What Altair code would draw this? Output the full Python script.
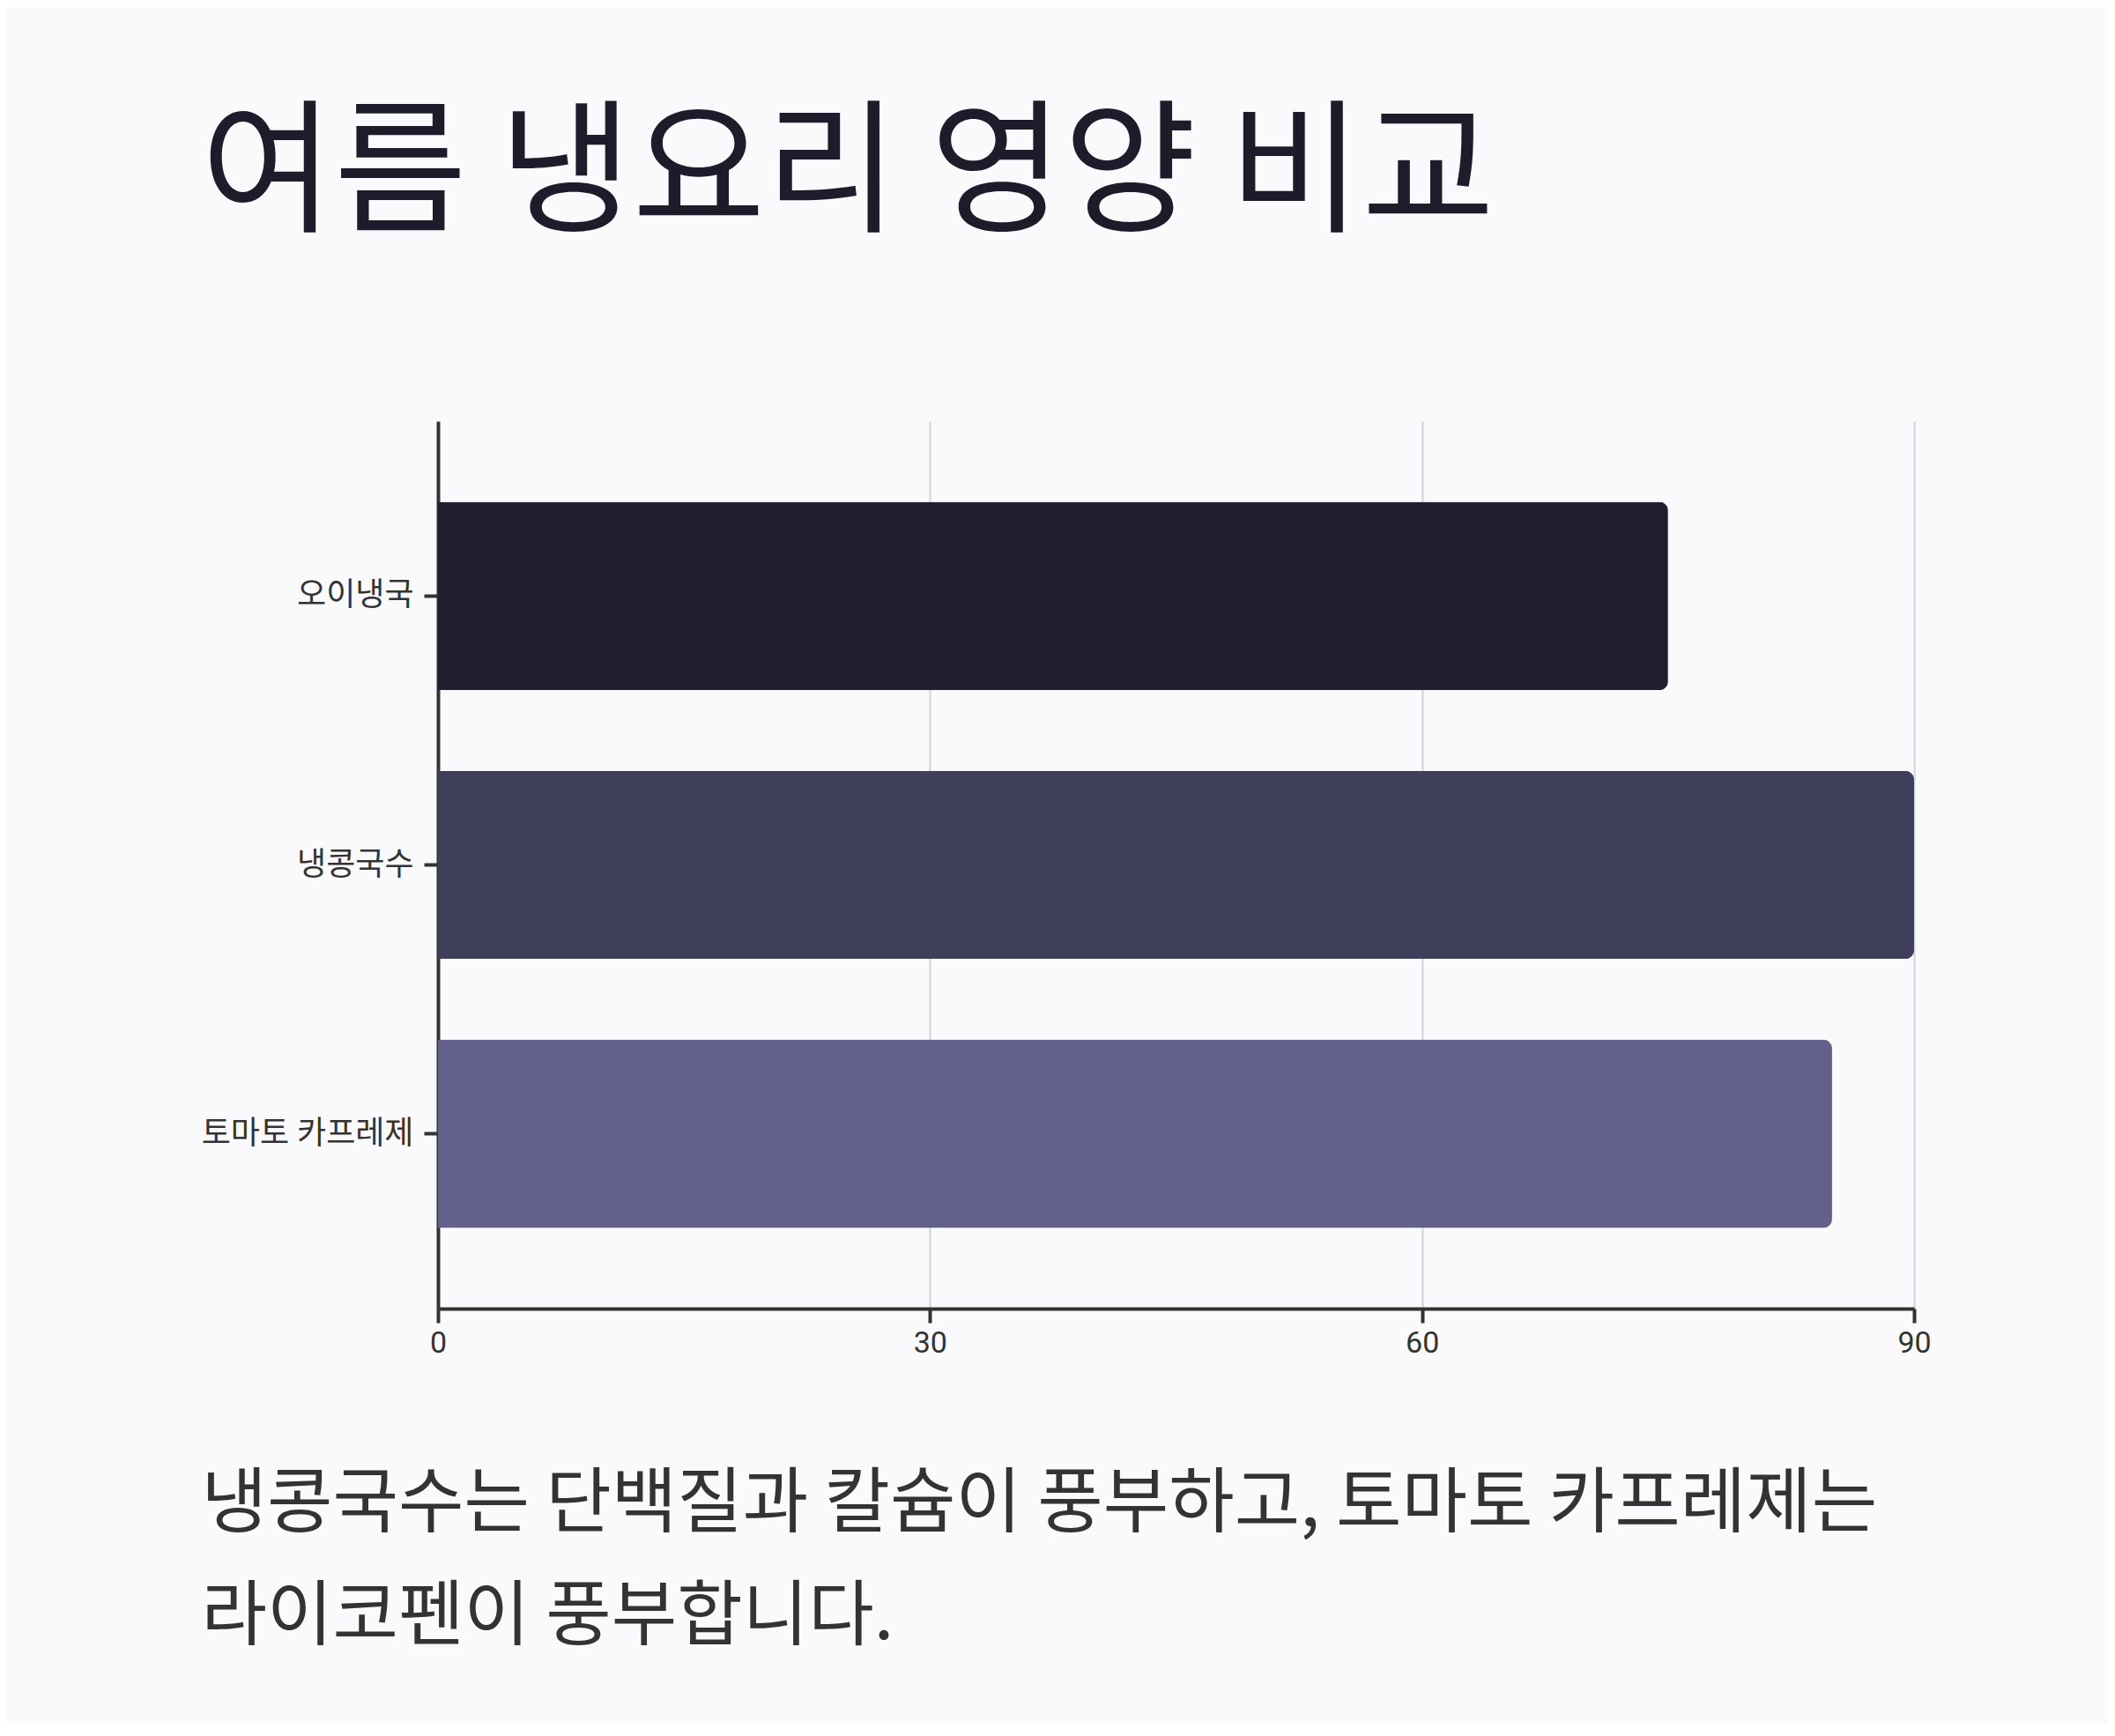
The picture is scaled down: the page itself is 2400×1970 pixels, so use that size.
import pandas as pd
import altair as alt

# dishes and their nutrition score
dishes = ["오이냉국", "냉콩국수", "토마토 카프레제"]
scores = [75, 90, 85]
bar_colors = ["#201f2e", "#403f5b", "#63618c"]

x_ticks = [0, 30, 60, 90]

title_text = "여름 냉요리 영양 비교"
caption_lines = [
    "냉콩국수는 단백질과 칼슘이 풍부하고, 토마토 카프레제는",
    "라이코펜이 풍부합니다.",
]

df = pd.DataFrame({"dish": dishes, "score": scores})

font = "Roboto, 'Noto Sans CJK KR', sans-serif"

chart = (
    alt.Chart(df)
    .mark_bar(cornerRadiusEnd=10)
    .encode(
        y=alt.Y(
            "dish:N",
            sort=dishes,
            title=None,
            scale=alt.Scale(paddingInner=0.3, paddingOuter=0.3),
            axis=alt.Axis(
                domainColor="#333333", domainWidth=4,
                tickColor="#333333", tickWidth=4, tickSize=16,
                labelFontSize=36, labelColor="#333333", labelFont=font,
                labelPadding=12, labelLimit=0, grid=False,
            ),
        ),
        x=alt.X(
            "score:Q",
            title=caption_lines,
            scale=alt.Scale(domain=[0, 90], nice=False),
            axis=alt.Axis(
                values=x_ticks,
                domainColor="#333333", domainWidth=4,
                tickColor="#333333", tickWidth=4, tickSize=16,
                labelFontSize=34, labelColor="#333333", labelFont=font,
                labelPadding=6, labelFlush=False,
                grid=True, gridColor="#d2d2d8", gridWidth=2,
                titleFont="'Noto Sans CJK KR', sans-serif", titleFontSize=81,
                titleFontWeight="normal", titleColor="#333333",
                titleAlign="left", titleBaseline="alphabetic",
                titleLineHeight=128, titleX=-269, titleY=246,
            ),
        ),
        color=alt.Color("dish:N", scale=alt.Scale(domain=dishes, range=bar_colors), legend=None),
    )
    .properties(
        width=1675,
        height=1007,
        padding={"left": 489, "top": 470, "right": 220, "bottom": 470},
        autosize=alt.AutoSizeParams(type="none"),
        background="#fafafc",
        title=alt.TitleParams(
            title_text,
            font="'Noto Sans CJK KR', sans-serif",
            fontSize=164,
            fontWeight="normal",
            color="#1e1c2a",
            anchor="start",
            frame="group",
            dx=-269,
            baseline="alphabetic",
            offset=64,
        ),
    )
    .configure_view(stroke=None)
)

chart.save("out.html", embed_options={"renderer": "svg", "actions": False})
